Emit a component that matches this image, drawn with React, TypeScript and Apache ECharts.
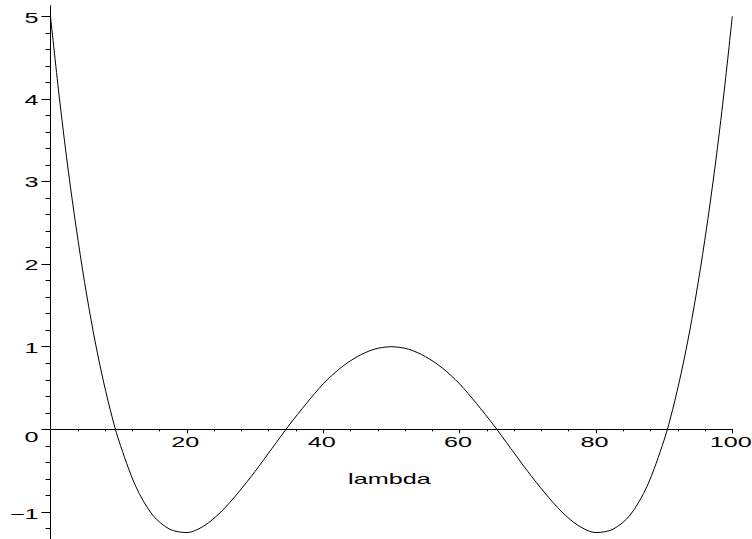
import React, { useEffect, useRef } from "react";
import * as echarts from "echarts";

const lambdaValues = [
  0, 1.25, 2.5, 3.75, 5, 6.25, 7.5, 8.75, 10, 12.5, 15, 17.5, 20, 22.5, 25, 27.5, 30, 32.5, 35, 37.5, 40, 42.5, 45,
  47.5, 50, 52.5, 55, 57.5, 60, 62.5, 65, 67.5, 70, 72.5, 75, 77.5, 80, 82.5, 85, 87.5, 90, 91.25, 92.5, 93.75, 95,
  96.25, 97.5, 98.75, 100,
];
const fValues = [
  5.0, 4.05, 3.2, 2.45, 1.78, 1.19, 0.68, 0.24, -0.13, -0.69, -1.04, -1.21, -1.25, -1.17, -1.0, -0.77, -0.51, -0.23,
  0.05, 0.31, 0.55, 0.74, 0.88, 0.97, 1.0, 0.97, 0.88, 0.74, 0.55, 0.31, 0.05, -0.23, -0.51, -0.77, -1.0, -1.17,
  -1.25, -1.21, -1.04, -0.69, -0.13, 0.24, 0.68, 1.19, 1.78, 2.45, 3.2, 4.05, 5.0,
];

const xMajorTicks = [20, 40, 60, 80, 100];
const xMinorTicks = [4, 8, 12, 16, 24, 28, 32, 36, 44, 48, 52, 56, 64, 68, 72, 76, 84, 88, 92, 96];
const xTickLabels = ["20", "40", "60", "80", "100"];

const yMajorTicks = [-1, 0, 1, 2, 3, 4, 5];
const yMinorTicks = [
  -1.2, -0.8, -0.6, -0.4, -0.2, 0.2, 0.4, 0.6, 0.8, 1.2, 1.4, 1.6, 1.8, 2.2, 2.4, 2.6, 2.8, 3.2, 3.4, 3.6, 3.8, 4.2,
  4.4, 4.6, 4.8,
];
const yTickLabels = ["\u22121", "0", "1", "2", "3", "4", "5"];

const xAxisTitle = "lambda";

const X_MIN = 0;
const X_MAX = 100;
const Y_MIN = -1.328;
const Y_MAX = 5.125;

export default function App() {
  const ref = useRef<HTMLDivElement>(null);

  useEffect(() => {
    document.body.style.margin = "0";
    const chart = echarts.init(ref.current!, null, { renderer: "svg" });

    const lineStyle = { color: "#000", width: 1 };
    const hiddenLabel = { show: false };
    const noSplit = { show: false };

    chart.setOption({
      animation: false,
      grid: { left: 50.5, right: 19.7, top: 6, bottom: 0, containLabel: false, outerBoundsMode: "none" },
      xAxis: [
        {
          type: "value",
          min: X_MIN,
          max: X_MAX,
          position: "bottom",
          axisLine: { show: true, onZero: true, lineStyle },
          axisTick: { show: true, customValues: xMajorTicks, length: 4, inside: false, lineStyle },
          axisLabel: hiddenLabel,
          splitLine: noSplit,
        },
        {
          type: "value",
          min: X_MIN,
          max: X_MAX,
          position: "bottom",
          axisLine: { show: true, onZero: true, lineStyle },
          axisTick: { show: true, customValues: xMinorTicks, length: 2, inside: false, lineStyle },
          axisLabel: hiddenLabel,
          splitLine: noSplit,
        },
      ],
      yAxis: [
        {
          type: "value",
          min: Y_MIN,
          max: Y_MAX,
          position: "left",
          axisLine: { show: true, onZero: false, lineStyle },
          axisTick: { show: true, customValues: yMajorTicks, length: 9, inside: false, lineStyle },
          axisLabel: hiddenLabel,
          splitLine: noSplit,
        },
        {
          type: "value",
          min: Y_MIN,
          max: Y_MAX,
          position: "left",
          offset: 0,
          axisLine: { show: true, onZero: false, lineStyle },
          axisTick: { show: true, customValues: yMinorTicks, length: 5, inside: false, lineStyle },
          axisLabel: hiddenLabel,
          splitLine: noSplit,
        },
      ],
      series: [
        {
          type: "line",
          xAxisIndex: 0,
          yAxisIndex: 0,
          data: lambdaValues.map((x, i) => [x, fValues[i]]),
          showSymbol: false,
          symbol: "none",
          smooth: 0.3,
          lineStyle: { color: "#000", width: 1 },
          silent: true,
        },
      ],
    });

    const px = (v: number) => chart.convertToPixel({ xAxisIndex: 0 }, v) as number;
    const py = (v: number) => chart.convertToPixel({ yAxisIndex: 0 }, v) as number;
    const x0 = px(0);
    const y0 = py(0);

    const textStyle = (text: string, align: string) => ({
      text,
      fill: "#000",
      fontFamily: "Liberation Sans",
      fontSize: 14,
      textAlign: align,
      align,
      textVerticalAlign: "middle",
      verticalAlign: "middle",
    });

    const texts: any[] = [];
    xMajorTicks.forEach((v, i) => {
      texts.push({
        type: "text",
        x: px(v) - 1.5,
        y: y0 + 12.4,
        scaleX: 1.8,
        silent: true,
        style: textStyle(xTickLabels[i], "center"),
      });
    });
    yMajorTicks.forEach((v, i) => {
      let dy = 1;
      if (v === 0) dy = 7.4;
      else if (v === 5) dy = 2.3;
      else if (v === -1) dy = 1.8;
      texts.push({
        type: "text",
        x: x0 - 12,
        y: py(v) + dy,
        scaleX: 1.8,
        silent: true,
        style: textStyle(yTickLabels[i], "right"),
      });
    });
    texts.push({
      type: "text",
      x: px(50) - 2,
      y: y0 + 50,
      scaleX: 1.8,
      silent: true,
      style: textStyle(xAxisTitle, "center"),
    });

    chart.setOption({ graphic: texts });

    return () => chart.dispose();
  }, []);

  return <div ref={ref} style={{ width: 752, height: 539 }} />;
}
